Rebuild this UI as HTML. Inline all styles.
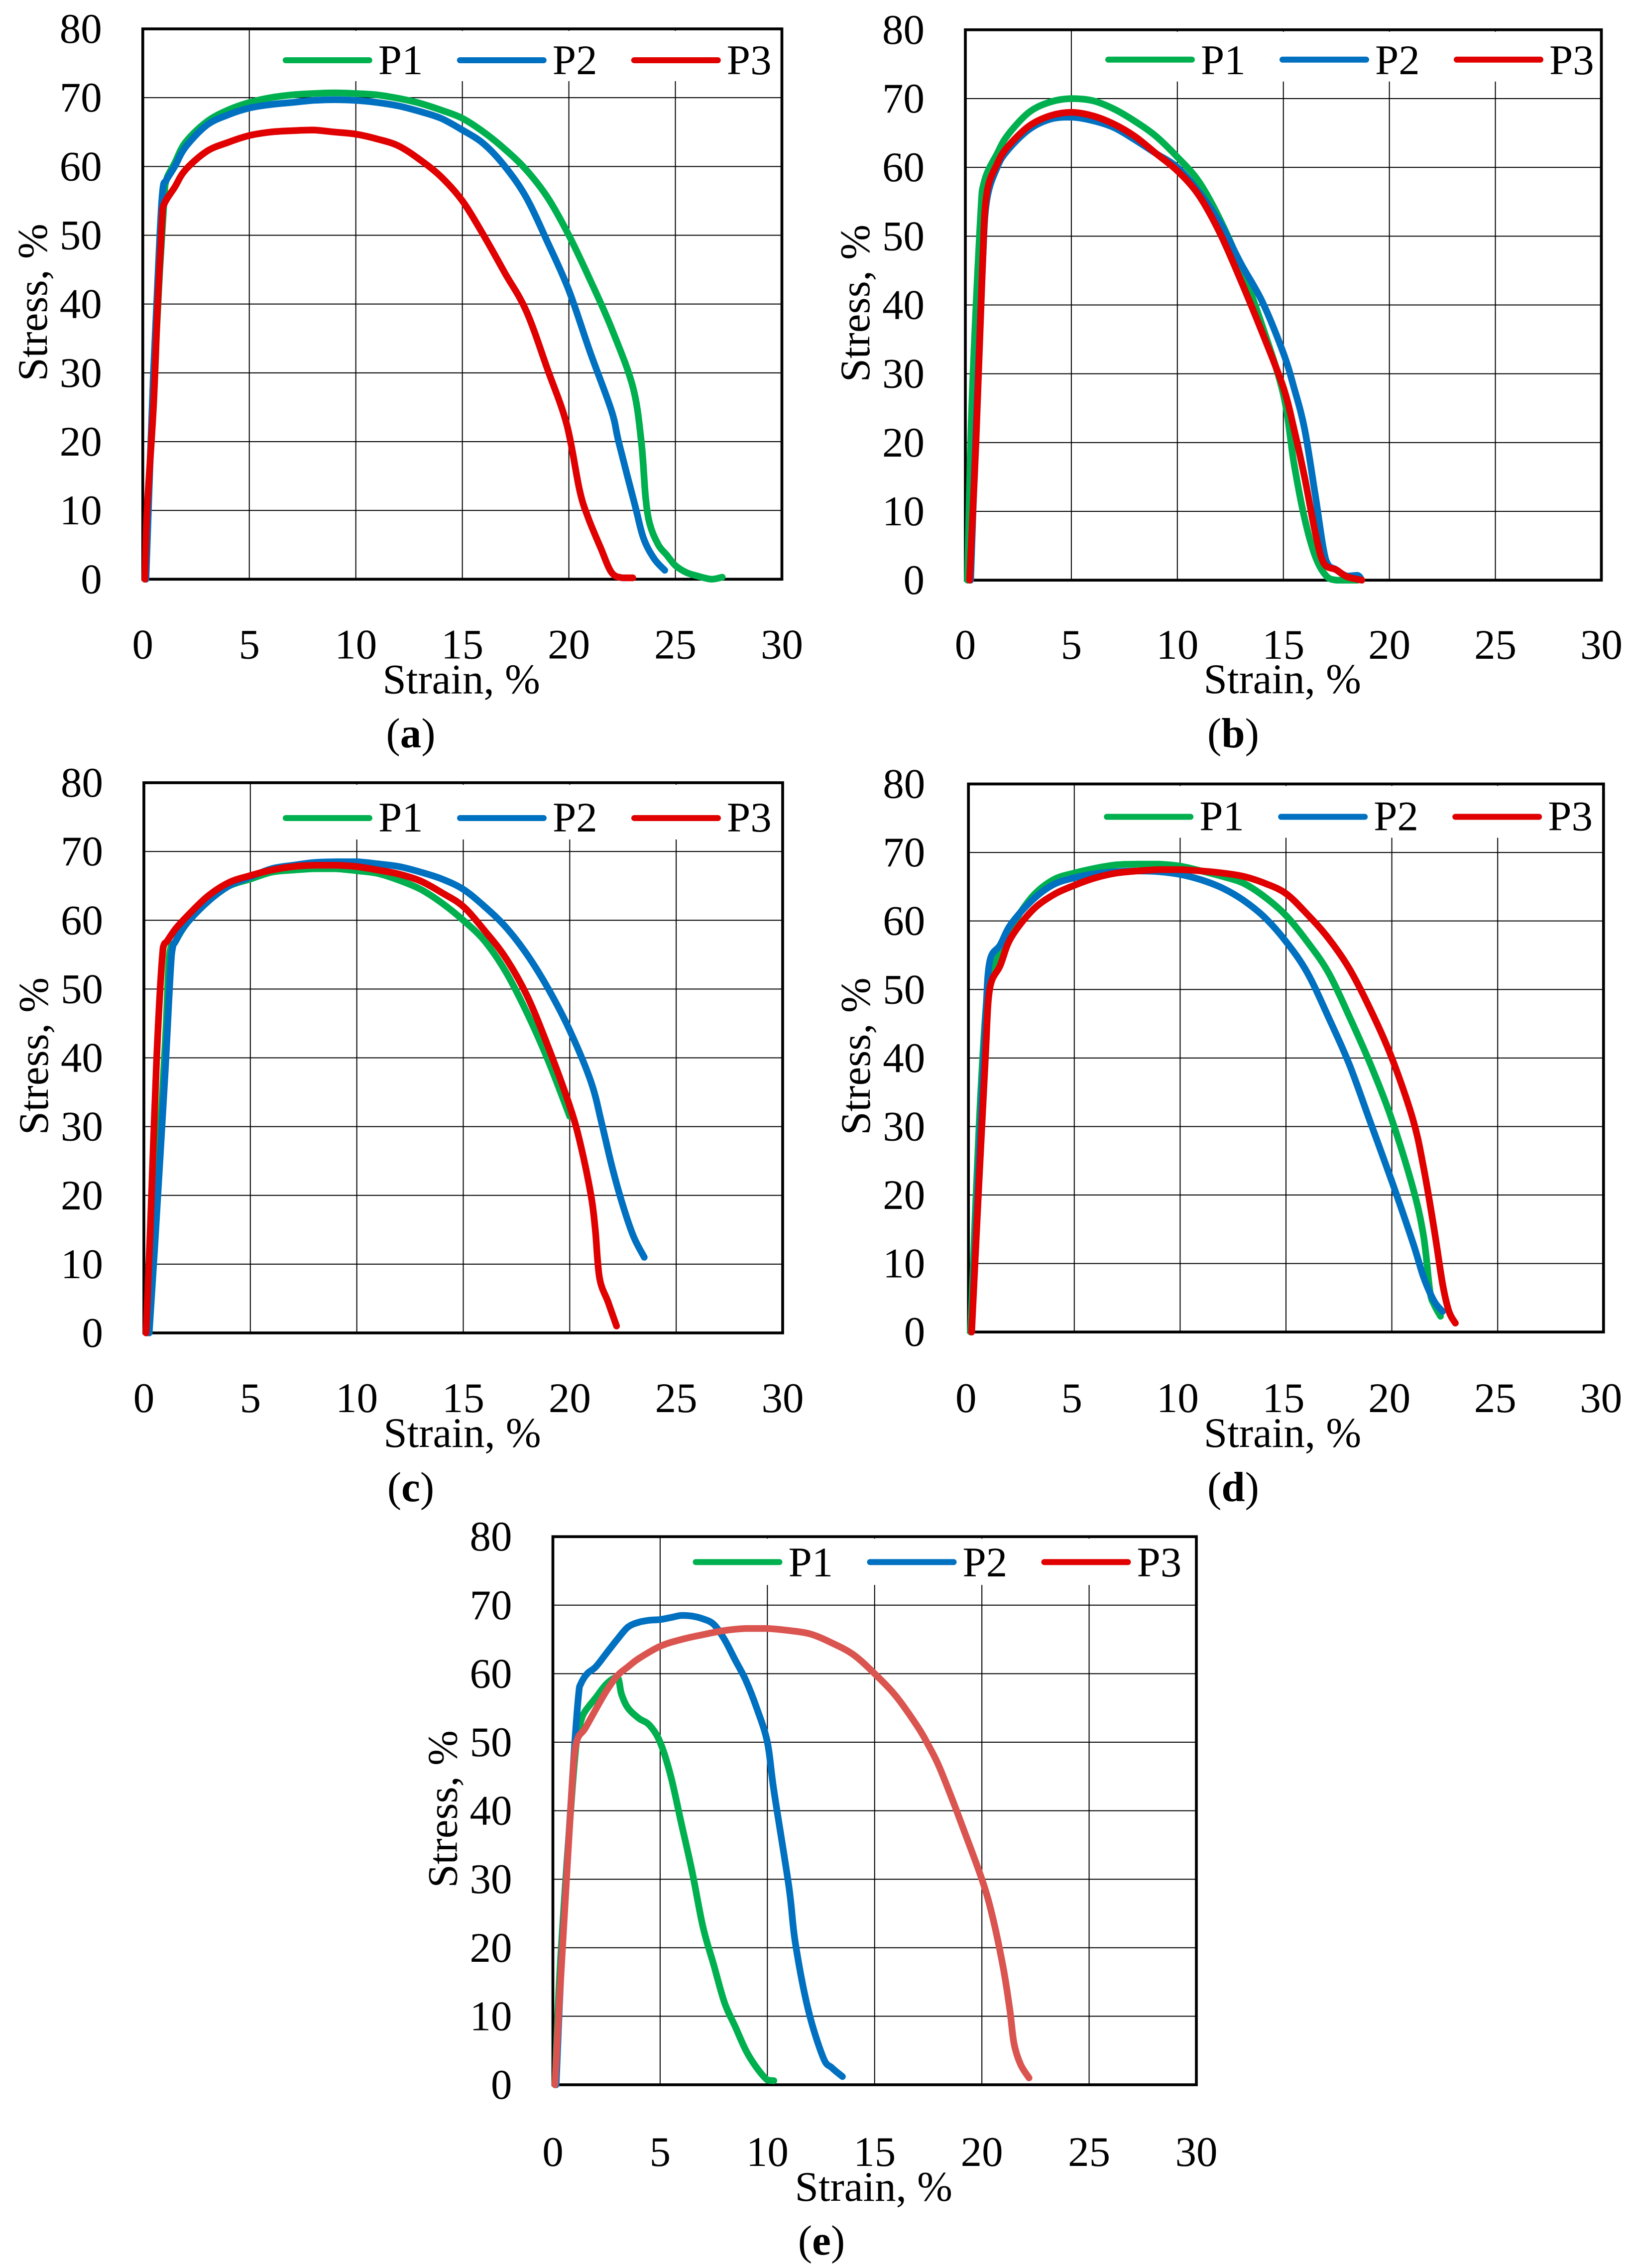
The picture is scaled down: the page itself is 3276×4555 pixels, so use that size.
<!DOCTYPE html>
<html lang="en">
<head>
<meta charset="utf-8">
<title>Stress-strain curves</title>
<style>
html,body{margin:0;padding:0;background:#fff;}
#figure{display:block;width:3276px;height:4555px;background:#fff;}
text{font-family:"Liberation Serif",serif;font-size:85px;fill:#000;}
</style>
</head>
<body>
<svg id="figure" xmlns="http://www.w3.org/2000/svg" width="3276" height="4555" viewBox="0 0 3276 4555"></svg>
<script>
const xTickLabels = [0, 5, 10, 15, 20, 25, 30];
const yTickLabels = [0, 10, 20, 30, 40, 50, 60, 70, 80];
const seriesNames = ['P1', 'P2', 'P3'];

const aP1Strain = [0.1,0.2,0.5,0.8,1.0,1.1,1.5,2,3,4,5,6,7,8,9,10,11,12,13,14,15,16,17,18,19,20,21,22,23,23.4,23.6,23.8,24.2,24.6,25,25.5,26,26.7,27.2];
const aP1Stress = [0,8,27,45,55,58,60.5,63.5,66.5,68.2,69.3,70,70.4,70.6,70.7,70.6,70.4,69.9,69.2,68.2,67,65,62.5,59.5,55.5,50,43.5,36.5,28,20,12,8,5,3.5,2,1,0.5,0,0.3];
const aP2Strain = [0.15,0.5,0.8,0.95,1.1,1.5,2,3,4,5,6,7,8,9,10,11,12,13,14,15,16,17,18,19,20,21,22,22.35,23.1,23.5,24,24.5];
const aP2Stress = [0,30,50,57,58,60,62.8,66,67.5,68.5,69,69.3,69.6,69.7,69.6,69.3,68.8,68,67,65.3,63.3,60,55.5,49,42,33,24.5,19.8,10.8,6,3,1.3];
const aP3Strain = [0.1,0.2,0.5,0.7,0.9,1,1.5,2,3,4,5,6,7,8,9,10,11,12,13,14,15,16,17,18,19,19.9,20.5,20.9,21.5,22,22.5,23];
const aP3Stress = [0,10,25,40,52,54.5,57,59.5,62.2,63.5,64.5,65,65.2,65.3,65,64.7,64,63,61,58.5,55,50,44.5,39,30.5,22.5,13,9,4.5,1,0.2,0.2];

const bP1Strain = [0.1,0.3,0.7,0.9,1.5,2,3,4,5,6,7,8,9,10,11,12,13,14,15,15.5,16,16.5,17,17.5,18.5];
const bP1Stress = [0,25,52,58,62,64.7,68,69.5,70,69.7,68.5,66.7,64.5,61.5,58,52.5,45.5,37,27,17,9,3.5,0.7,0,0];
const bP2Strain = [0.25,0.5,0.8,1,1.5,2,3,4,5,6,7,8,9,10,11,12,13,14,15,15.5,16,16.5,17,17.5,18,18.5,18.7];
const bP2Stress = [0,22,45,55,60,62.5,65.5,67,67.3,66.8,65.8,64,62,60,56.5,52,46,40.5,33,28,22,12.5,3,1.5,0.6,0.7,0];
const bP3Strain = [0.2,0.5,0.8,1,1.5,2,3,4,5,6,7,8,9,10,11,12,13,14,15,15.5,16,16.5,16.9,17.5,18,18.7];
const bP3Stress = [0,20,45,56,60.5,63,66,67.5,68,67.5,66.3,64.5,62,59.5,56,50.5,43.5,36,28,22,15,7,2.5,1.5,0.5,0];

const cP1Strain = [0.15,0.5,1,1.2,1.5,2,3,4,5,6,7,8,9,10,11,12,13,14,15,16,17,18,19,20];
const cP1Stress = [0,15,42,55,57,59.5,63,65,66,67,67.3,67.5,67.5,67.2,66.8,65.8,64.5,62.5,60,57,52.5,46.5,39.5,31.5];
const cP2Strain = [0.25,0.5,1,1.3,1.5,2,3,4,5,6,7,8,9,10,11,12,13,14,15,16,17,18,19,20,21,21.5,22,22.5,23,23.5];
const cP2Stress = [0,12,38,55,57,59.5,62.7,65,66.3,67.5,68,68.4,68.5,68.5,68.2,67.8,67,66,64.5,62,59,55,50,44,36.5,30.5,24,18.5,14,11];
const cP3Strain = [0.1,0.3,0.6,0.9,1.1,1.5,2,3,4,5,6,7,8,9,10,11,12,13,14,15,16,17,18,19,20,20.5,21,21.2,21.4,21.8,22.2];
const cP3Stress = [0,15,40,56,57,58.8,60.5,63.5,65.5,66.5,67.3,67.8,68,68,67.8,67.3,66.7,65.7,64,62,58.5,54.5,49,41.5,33,27.5,20,15,8,4.5,1];

const dP1Strain = [0.1,0.5,0.9,1.2,1.5,2,3,4,5,6,7,8,9,10,11,12,13,14,15,16,17,18,19,20,21,21.5,21.8,22,22.3];
const dP1Stress = [0,30,50,53,55.5,59,63.5,66,67,67.7,68.2,68.3,68.3,68,67.3,66.5,65.5,63.5,60.8,57,52.5,46,39,31,21,14,6,4,2.3];
const dP2Strain = [0.15,0.5,0.8,1,1.5,2,3,4,5,6,7,8,9,10,11,12,13,14,15,16,17,18,19,20,21,21.5,22,22.4];
const dP2Stress = [0,25,45,54,56.5,59.5,63,65.3,66.3,66.9,67.2,67.3,67.2,66.8,66,64.8,63,60.5,57,52.5,46,39,30.5,22,13,8,4.5,3];
const dP3Strain = [0.15,0.5,0.8,1,1.5,2,3,4,5,6,7,8,9,10,11,12,13,14,15,16,17,18,19,20,21,21.5,22,22.4,22.7,23];
const dP3Stress = [0,22,40,50,53.5,57.5,61.5,63.8,65.2,66.3,67,67.3,67.5,67.5,67.3,67,66.5,65.5,64,61,57.5,53,47,40,31,24,15,7,3,1.3];

const eP1Strain = [0.1,0.3,0.6,0.9,1.1,1.3,1.5,2,2.5,3,3.2,3.5,4,4.5,5,5.5,6,6.5,7,7.5,8,8.5,9,9.5,10,10.3];
const eP1Stress = [0,15,30,43,50,53,54.5,56.5,58.5,59.5,57,55,53.5,52.5,50,45,38,31,23,17.5,12,8.5,5,2.5,0.7,0.6];
const eP2Strain = [0.15,0.4,0.7,1,1.2,1.3,1.6,2,2.5,3,3.5,4,4.5,5,5.5,6,6.5,7,7.5,8,8.5,9,9.5,10,10.3,11,11.3,11.9,12.6,13,13.5];
const eP2Stress = [0,18,34,49,57,58.5,60,61,63,65,66.8,67.5,67.8,67.9,68.2,68.5,68.4,68,67.2,65,62,59,55,50,43,29,20.8,11,4,2.5,1.2];
const eP3Strain = [0.1,0.3,0.6,0.9,1.1,1.5,2,2.5,3,3.5,4,5,6,7,8,9,10,11,12,13,14,15,16,17,17.5,18,18.7,19,20,20.5,21,21.3,21.5,21.8,22.2];
const eP3Stress = [0,12,28,44,50,52,54.8,57.5,59.7,61,62.2,64,65,65.7,66.3,66.6,66.6,66.3,65.8,64.5,62.8,60,56.7,52.3,49.6,46.5,41,38.5,30,24.5,17,11,6,3,1];

const GREEN = '#00B04F', BLUE = '#0070C0', RED = '#E00000', SALMON = '#DA5450';
const NS = 'http://www.w3.org/2000/svg';
const figure = document.getElementById('figure');
const xMax = 30, yMax = 80;

const panels = [
  {id:'a', left:286.8, right:1570.5, top:58, bottom:1163.3, labelShift:0, legendShift:0, legendLine:63, legendBase:91, legendBottom:105, xLabelDy:159, xTitleDy:229, captionX:825, captionY:1501,
    series:[[aP1Strain,aP1Stress,GREEN],[aP2Strain,aP2Stress,BLUE],[aP3Strain,aP3Stress,RED]], legendColors:[GREEN,BLUE,RED]},
  {id:'b', left:1939, right:3216.5, top:59.8, bottom:1165.2, labelShift:0, legendShift:0, legendLine:60, legendBase:89, legendBottom:104, xLabelDy:158, xTitleDy:227, captionX:2477, captionY:1501,
    series:[[bP1Strain,bP1Stress,GREEN],[bP2Strain,bP2Stress,BLUE],[bP3Strain,bP3Stress,RED]], legendColors:[GREEN,BLUE,RED]},
  {id:'c', left:289, right:1572, top:1572, bottom:2677, labelShift:0, legendShift:-2, legendLine:71, legendBase:98, legendBottom:114, xLabelDy:159, xTitleDy:229, captionX:825, captionY:3015,
    series:[[cP1Strain,cP1Stress,GREEN],[cP2Strain,cP2Stress,BLUE],[cP3Strain,cP3Stress,RED]], legendColors:[GREEN,BLUE,RED]},
  {id:'d', left:1945.2, right:3220.8, top:1574.5, bottom:2675.2, labelShift:-5, legendShift:-9, legendLine:66, legendBase:93, legendBottom:108, xLabelDy:161, xTitleDy:231, captionX:2477, captionY:3015,
    series:[[dP1Strain,dP1Stress,GREEN],[dP2Strain,dP2Stress,BLUE],[dP3Strain,dP3Stress,RED]], legendColors:[GREEN,BLUE,RED]},
  {id:'e', left:1110.5, right:2403, top:3086.2, bottom:4187, labelShift:0, legendShift:0, legendLine:51, legendBase:80, legendBottom:97, xLabelDy:163, xTitleDy:233, captionX:1650, captionY:4528,
    series:[[eP1Strain,eP1Stress,GREEN],[eP2Strain,eP2Stress,BLUE],[eP3Strain,eP3Stress,SALMON]], legendColors:[GREEN,BLUE,RED]}
];

function addLine(parent, x1, y1, x2, y2, stroke, width, cap) {
  const line = document.createElementNS(NS, 'line');
  line.setAttribute('x1', x1);
  line.setAttribute('y1', y1);
  line.setAttribute('x2', x2);
  line.setAttribute('y2', y2);
  line.setAttribute('stroke', stroke);
  line.setAttribute('stroke-width', width);
  if (cap) line.setAttribute('stroke-linecap', cap);
  parent.appendChild(line);
  return line;
}

function addText(parent, x, y, content, anchor) {
  const t = document.createElementNS(NS, 'text');
  t.setAttribute('x', x);
  t.setAttribute('y', y);
  t.setAttribute('text-anchor', anchor);
  t.textContent = content;
  parent.appendChild(t);
  return t;
}

function clampTo(v, a, b) {
  return Math.max(Math.min(a, b), Math.min(Math.max(a, b), v));
}

function smoothPath(pts) {
  let d = 'M' + pts[0][0].toFixed(1) + ' ' + pts[0][1].toFixed(1);
  for (let i = 0; i < pts.length - 1; i++) {
    const p0 = pts[Math.max(i - 1, 0)];
    const p1 = pts[i];
    const p2 = pts[i + 1];
    const p3 = pts[Math.min(i + 2, pts.length - 1)];
    const c1x = clampTo(p1[0] + (p2[0] - p0[0]) / 6, p1[0], p2[0]);
    const c1y = clampTo(p1[1] + (p2[1] - p0[1]) / 6, p1[1], p2[1]);
    const c2x = clampTo(p2[0] - (p3[0] - p1[0]) / 6, p1[0], p2[0]);
    const c2y = clampTo(p2[1] - (p3[1] - p1[1]) / 6, p1[1], p2[1]);
    d += 'C' + c1x.toFixed(1) + ' ' + c1y.toFixed(1) + ' ' + c2x.toFixed(1) + ' ' + c2y.toFixed(1) + ' ' + p2[0].toFixed(1) + ' ' + p2[1].toFixed(1);
  }
  return d;
}

function drawPanel(p) {
  const xScale = v => p.left + (v / xMax) * (p.right - p.left);
  const yScale = v => p.bottom - (v / yMax) * (p.bottom - p.top);

  const g = document.createElementNS(NS, 'g');
  
  
  figure.appendChild(g);

  xTickLabels.forEach(v => {
    if (v > 0 && v < xMax) {
      const grid = addLine(g, xScale(v), p.top, xScale(v), p.bottom, '#000', 2);
      
      
    }
    const label = addText(g, xScale(v) + p.labelShift, p.bottom + p.xLabelDy, String(v), 'middle');
    
    
  });

  yTickLabels.forEach(v => {
    if (v > 0 && v < yMax) {
      const grid = addLine(g, p.left, yScale(v), p.right, yScale(v), '#000', 2);
      
      
    }
    const label = addText(g, p.left - 82 + p.labelShift, yScale(v) + 28, String(v), 'end');
    
    
  });

  const legendBg = document.createElementNS(NS, 'rect');
  legendBg.setAttribute('x', p.left + 256);
  legendBg.setAttribute('y', p.top + 4);
  legendBg.setAttribute('width', p.right - p.left - 262);
  legendBg.setAttribute('height', p.legendBottom - 4);
  legendBg.setAttribute('fill', '#fff');
  
  
  g.appendChild(legendBg);

  const frame = document.createElementNS(NS, 'rect');
  frame.setAttribute('x', p.left);
  frame.setAttribute('y', p.top);
  frame.setAttribute('width', p.right - p.left);
  frame.setAttribute('height', p.bottom - p.top);
  frame.setAttribute('fill', 'none');
  frame.setAttribute('stroke', '#000');
  frame.setAttribute('stroke-width', 5.7);
  
  
  g.appendChild(frame);

  p.series.forEach((s, i) => {
    const pts = s[0].map((x, k) => [xScale(x), yScale(s[1][k])]);
    const curve = document.createElementNS(NS, 'path');
    curve.setAttribute('d', smoothPath(pts));
    curve.setAttribute('fill', 'none');
    curve.setAttribute('stroke', s[2]);
    curve.setAttribute('stroke-width', 13.5);
    curve.setAttribute('stroke-linejoin', 'round');
    curve.setAttribute('stroke-linecap', 'round');
    
    
    g.appendChild(curve);
  });

  const legendOffsets = [287, 637, 987];
  seriesNames.forEach((name, i) => {
    const start = p.left + legendOffsets[i] + p.legendShift;
    const swatch = addLine(g, start, p.top + p.legendLine, start + 168, p.top + p.legendLine, p.legendColors[i], 12, 'round');
    
    
    const entry = addText(g, start + 186, p.top + p.legendBase, name, 'start');
    
    
  });

  const xTitle = addText(g, (p.left + p.right) / 2 - 2 + p.labelShift, p.bottom + p.xTitleDy, 'Strain, %', 'middle');
  
  

  const yCenter = p.top + 0.497 * (p.bottom - p.top);
  const yTitleX = p.left - 193 + p.labelShift;
  const yTitle = addText(g, yTitleX, yCenter, 'Stress, %', 'middle');
  yTitle.setAttribute('transform', 'rotate(-90 ' + yTitleX + ' ' + yCenter + ')');
  
  

  const caption = document.createElementNS(NS, 'text');
  caption.setAttribute('x', p.captionX);
  caption.setAttribute('y', p.captionY);
  caption.setAttribute('text-anchor', 'middle');
  
  
  caption.appendChild(document.createTextNode('('));
  const bold = document.createElementNS(NS, 'tspan');
  bold.setAttribute('font-weight', 'bold');
  bold.textContent = p.id;
  caption.appendChild(bold);
  caption.appendChild(document.createTextNode(')'));
  g.appendChild(caption);
}

panels.forEach(drawPanel);
</script>
</body>
</html>
